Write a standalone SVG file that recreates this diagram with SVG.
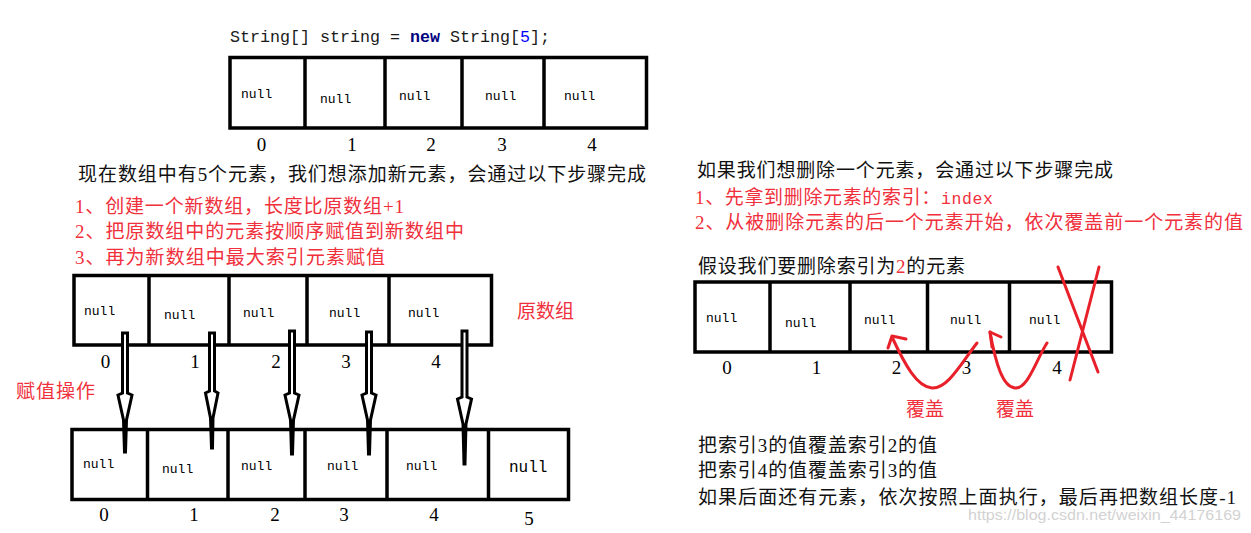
<svg xmlns="http://www.w3.org/2000/svg" width="1251" height="533" viewBox="0 0 1251 533">
<style>
.box{fill:#fff;stroke:#000;stroke-width:3.5}
.div{stroke:#000;stroke-width:3.5}
.nl{font-family:"Liberation Mono",monospace;font-size:13px;fill:#000}
.nlb{font-family:"Liberation Mono",monospace;font-size:16px;fill:#000}
.idx{font-family:"Liberation Serif","Noto Sans CJK SC",serif;font-size:19px;fill:#000;text-anchor:middle}
.t{font-family:"Liberation Serif","Noto Sans CJK SC",serif;font-size:19px;fill:#111}
.r{font-family:"Liberation Serif","Noto Sans CJK SC",serif;font-size:19px;fill:#f0303c}
.code{font-family:"Liberation Mono",monospace;font-size:16.67px;fill:#1a1a1a}
.arr{fill:#fff;stroke:#000;stroke-width:3;stroke-linejoin:miter}
.red{fill:none;stroke:#e8202a;stroke-width:3;stroke-linecap:round;stroke-linejoin:round}
</style>
<rect width="1251" height="533" fill="#fff"/>

<text class="code" x="230" y="42">String[] string = <tspan font-weight="bold" fill="#000080">new</tspan> String[<tspan fill="#0000ff">5</tspan>];</text>

<g id="array-top">
<rect class="box" x="230" y="57.5" width="416.5" height="70.5"/>
<line class="div" x1="305" y1="57.5" x2="305" y2="128"/>
<line class="div" x1="385" y1="57.5" x2="385" y2="128"/>
<line class="div" x1="462" y1="57.5" x2="462" y2="128"/>
<line class="div" x1="544" y1="57.5" x2="544" y2="128"/>
<text class="nl" x="241" y="98">null</text>
<text class="nl" x="320" y="103">null</text>
<text class="nl" x="399" y="100">null</text>
<text class="nl" x="485" y="100">null</text>
<text class="nl" x="564" y="100">null</text>
<text class="idx" x="261.5" y="151">0</text>
<text class="idx" x="352" y="151">1</text>
<text class="idx" x="431" y="151">2</text>
<text class="idx" x="502" y="151">3</text>
<text class="idx" x="592" y="151">4</text>
</g>

<g id="add-text">
<text class="t" x="78" y="181" textLength="568" lengthAdjust="spacing">现在数组中有5个元素，我们想添加新元素，会通过以下步骤完成</text>
<text class="r" x="75" y="213" textLength="329" lengthAdjust="spacing">1、创建一个新数组，长度比原数组+1</text>
<text class="r" x="75" y="238" textLength="389" lengthAdjust="spacing">2、把原数组中的元素按顺序赋值到新数组中</text>
<text class="r" x="75" y="264" textLength="310" lengthAdjust="spacing">3、再为新数组中最大索引元素赋值</text>
</g>

<g id="array-original">
<rect class="box" x="74" y="275.5" width="417.5" height="69.5"/>
<line class="div" x1="149" y1="275.5" x2="149" y2="345"/>
<line class="div" x1="229" y1="275.5" x2="229" y2="345"/>
<line class="div" x1="307" y1="275.5" x2="307" y2="345"/>
<line class="div" x1="389" y1="275.5" x2="389" y2="345"/>
<text class="nl" x="84" y="315">null</text>
<text class="nl" x="164" y="319">null</text>
<text class="nl" x="243" y="317">null</text>
<text class="nl" x="329" y="317">null</text>
<text class="nl" x="408" y="317">null</text>
<text class="idx" x="105.5" y="368">0</text>
<text class="idx" x="195" y="368">1</text>
<text class="idx" x="276" y="368">2</text>
<text class="idx" x="346" y="368">3</text>
<text class="idx" x="436" y="368">4</text>
</g>
<text id="label-original" class="r" x="517" y="318" textLength="57" lengthAdjust="spacing">原数组</text>
<text id="label-assign" class="r" x="16" y="398" textLength="79" lengthAdjust="spacing">赋值操作</text>

<g id="array-new">
<rect class="box" x="72" y="429.5" width="496.5" height="70"/>
<line class="div" x1="147.5" y1="429.5" x2="147.5" y2="499.5"/>
<line class="div" x1="228" y1="429.5" x2="228" y2="499.5"/>
<line class="div" x1="305" y1="429.5" x2="305" y2="499.5"/>
<line class="div" x1="387" y1="429.5" x2="387" y2="499.5"/>
<line class="div" x1="488.5" y1="429.5" x2="488.5" y2="499.5"/>
<text class="nl" x="83" y="468">null</text>
<text class="nl" x="162" y="473">null</text>
<text class="nl" x="241" y="470">null</text>
<text class="nl" x="327" y="470">null</text>
<text class="nl" x="406" y="470">null</text>
<text class="nlb" x="509" y="472">null</text>
<text class="idx" x="104" y="521">0</text>
<text class="idx" x="194" y="521">1</text>
<text class="idx" x="275" y="521">2</text>
<text class="idx" x="344" y="521">3</text>
<text class="idx" x="434" y="521">4</text>
<text class="idx" x="529" y="525">5</text>
</g>

<g id="delete-text">
<text class="t" x="697" y="177" textLength="416" lengthAdjust="spacing">如果我们想删除一个元素，会通过以下步骤完成</text>
<text class="r" x="695" y="204" textLength="298" lengthAdjust="spacing">1、先拿到删除元素的索引：<tspan font-family="Liberation Mono, monospace" font-size="16.5">index</tspan></text>
<text class="r" x="695" y="229" textLength="548" lengthAdjust="spacing">2、从被删除元素的后一个元素开始，依次覆盖前一个元素的值</text>
<text class="t" x="698" y="273" textLength="267" lengthAdjust="spacing">假设我们要删除索引为<tspan fill="#f0303c">2</tspan>的元素</text>
</g>

<g id="array-delete">
<rect class="box" x="695" y="282" width="416.5" height="70"/>
<line class="div" x1="770" y1="282" x2="770" y2="352"/>
<line class="div" x1="850" y1="282" x2="850" y2="352"/>
<line class="div" x1="927.5" y1="282" x2="927.5" y2="352"/>
<line class="div" x1="1009.5" y1="282" x2="1009.5" y2="352"/>
<text class="nl" x="706" y="322">null</text>
<text class="nl" x="785" y="327">null</text>
<text class="nl" x="864" y="324">null</text>
<text class="nl" x="950" y="324">null</text>
<text class="nl" x="1029" y="324">null</text>
<text class="idx" x="727" y="374">0</text>
<text class="idx" x="816.5" y="374">1</text>
<text class="idx" x="896.5" y="374">2</text>
<text class="idx" x="966.5" y="374">3</text>
<text class="idx" x="1057" y="374">4</text>
<line class="red" x1="1058" y1="267" x2="1098" y2="372"/>
<line class="red" x1="1099" y1="267" x2="1070" y2="380"/>
</g>

<g id="connectors">
<polygon class="arr" points="122.5,333 127.5,333 127.5,393 132,395 126.5,420 125.5,452 124.5,452 123.5,420 118,395 122.5,393"/>
<polygon class="arr" points="209.5,333 214.5,333 214.5,391 218,393 213,418 212.5,448 211.5,448 210.5,418 205.5,393 209.5,391"/>
<polygon class="arr" points="289.5,331 294.5,331 294.5,393 299,395 293.5,420 292.5,454 291.5,454 290.5,420 285,395 289.5,393"/>
<polygon class="arr" points="366.5,332 371.5,332 371.5,393 376,395 370.5,420 369.5,454 368.5,454 367.5,420 362,395 366.5,393"/>
<polygon class="arr" points="462,331 467,331 467,397 471.5,399 466,424 465,464 464,464 463,424 457.5,399 462,397"/>
<path class="red" d="M977,343 C962,362 948,389 932,388 C917,387 905,365 892,337"/>
<path class="red" d="M906,339 L892,336 L888,348"/>
<path class="red" d="M1047,343 C1036,360 1028,389 1015,388 C1003,387 996,365 990,332"/>
<path class="red" d="M1001,337 L990,332 L992,347"/>
</g>

<text id="cover-1" class="r" x="906" y="416" textLength="38" lengthAdjust="spacing">覆盖</text>
<text id="cover-2" class="r" x="996" y="416" textLength="38" lengthAdjust="spacing">覆盖</text>

<g id="bottom-text">
<text class="t" x="698" y="452" textLength="239" lengthAdjust="spacing">把索引3的值覆盖索引2的值</text>
<text class="t" x="698" y="477" textLength="239" lengthAdjust="spacing">把索引4的值覆盖索引3的值</text>
<text class="t" x="698" y="504" textLength="538" lengthAdjust="spacing">如果后面还有元素，依次按照上面执行，最后再把数组长度-1</text>
</g>

<text id="watermark" x="968" y="520" font-family="Liberation Sans, sans-serif" font-size="15" fill="#d2d2d2" textLength="273" lengthAdjust="spacingAndGlyphs">https://blog.csdn.net/weixin_44176169</text>
</svg>
